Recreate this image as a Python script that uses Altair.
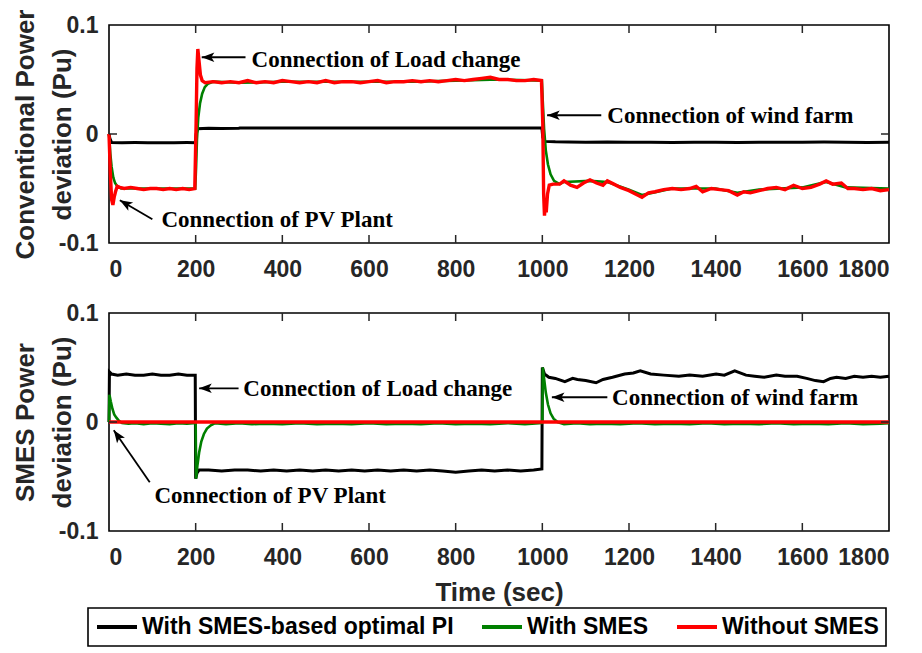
import altair as alt
import pandas as pd

# ---------------- data ----------------
SERIES = ["With SMES-based optimal PI", "With SMES", "Without SMES"]
COLORS = ["#000000", "#008000", "#ff0000"]
X_TICKS = [0, 200, 400, 600, 800, 1000, 1200, 1400, 1600, 1800]
X_INNER_TICKS = [200, 400, 600, 800, 1000, 1200, 1400, 1600]
Y_TICKS = [-0.1, 0, 0.1]
Y_INNER_TICKS = [0]
TOP_TITLE = ["Conventional Power", "deviation (Pu)"]
BOT_TITLE = ["SMES Power", "deviation (Pu)"]
X_TITLE = "Time (sec)"
ANN_LABELS = ["Connection of Load change", "Connection of wind farm", "Connection of PV Plant"]

# top panel: conventional power deviation (time, value)
top_black = [(0, 0.0), (2, -0.004), (6, -0.0078), (30, -0.008), (60, -0.0079), (90, -0.008),
             (120, -0.0081), (150, -0.008), (180, -0.0079), (199, -0.008), (201, 0.0), (205, 0.0048),
             (230, 0.0052), (260, 0.0051), (300, 0.0053), (302, 0.0056), (350, 0.0055), (400, 0.0055),
             (450, 0.0056), (500, 0.0055), (550, 0.0055), (600, 0.0056), (650, 0.0055), (700, 0.0055),
             (750, 0.0056), (800, 0.0055), (850, 0.0055), (900, 0.0056), (950, 0.0055), (999, 0.0055),
             (1001, -0.003), (1006, -0.0068), (1030, -0.0072), (1060, -0.0074), (1100, -0.0075),
             (1150, -0.0073), (1200, -0.0076), (1250, -0.0075), (1300, -0.0077), (1350, -0.0075),
             (1400, -0.0076), (1450, -0.0078), (1500, -0.0076), (1550, -0.0075), (1600, -0.0076),
             (1650, -0.0074), (1700, -0.0076), (1750, -0.0077), (1800, -0.0076)]

top_green = [(0, 0.0), (3, -0.018), (6, -0.030), (10, -0.040), (14, -0.045), (19, -0.048), (28, -0.050),
             (60, -0.050), (100, -0.050), (140, -0.050), (180, -0.050), (199, -0.050), (201, -0.030),
             (203, -0.005), (206, 0.015), (210, 0.028), (215, 0.037), (221, 0.043), (228, 0.046),
             (240, 0.048), (300, 0.047), (400, 0.048), (500, 0.048), (600, 0.048), (700, 0.048),
             (800, 0.049), (900, 0.050), (999, 0.049), (1001, 0.030), (1004, 0.005), (1008, -0.015),
             (1013, -0.028), (1019, -0.037), (1027, -0.043), (1040, -0.046), (1050, -0.044),
             (1110, -0.043), (1150, -0.044), (1200, -0.051), (1230, -0.056), (1300, -0.050),
             (1400, -0.050), (1450, -0.054), (1500, -0.051), (1600, -0.049), (1655, -0.044),
             (1700, -0.049), (1800, -0.050)]

top_red = [(0, 0.0), (3, -0.035), (6, -0.060), (9, -0.065), (12, -0.058), (15, -0.053), (19, -0.048),
           (25, -0.049), (35, -0.050), (50, -0.049), (65, -0.050), (80, -0.051), (95, -0.050),
           (110, -0.050), (125, -0.051), (140, -0.050), (155, -0.051), (170, -0.050), (185, -0.051),
           (198, -0.050), (201, 0.010), (203, 0.060), (205, 0.078), (208, 0.066), (211, 0.054),
           (215, 0.049), (222, 0.047), (240, 0.048), (260, 0.047), (280, 0.048), (300, 0.047),
           (320, 0.049), (340, 0.047), (360, 0.048), (380, 0.047), (400, 0.049), (420, 0.048),
           (440, 0.047), (460, 0.048), (480, 0.047), (500, 0.049), (520, 0.047), (540, 0.048),
           (560, 0.048), (580, 0.047), (600, 0.048), (620, 0.049), (640, 0.047), (660, 0.048),
           (680, 0.048), (700, 0.049), (720, 0.048), (740, 0.049), (760, 0.048), (780, 0.049),
           (800, 0.050), (820, 0.049), (840, 0.050), (860, 0.051), (880, 0.052), (900, 0.050),
           (920, 0.050), (940, 0.049), (960, 0.049), (980, 0.050), (998, 0.049), (1001, 0.010),
           (1003, -0.055), (1005, -0.075), (1007, -0.062), (1009, -0.072), (1012, -0.055),
           (1016, -0.047), (1025, -0.046), (1040, -0.046), (1050, -0.043), (1065, -0.047),
           (1080, -0.049), (1095, -0.045), (1110, -0.042), (1125, -0.045), (1140, -0.047),
           (1150, -0.043), (1165, -0.046), (1180, -0.049), (1200, -0.052), (1215, -0.055),
           (1230, -0.058), (1245, -0.054), (1260, -0.053), (1280, -0.051), (1300, -0.050),
           (1320, -0.051), (1340, -0.050), (1355, -0.048), (1370, -0.053), (1390, -0.050),
           (1410, -0.051), (1430, -0.052), (1450, -0.056), (1465, -0.053), (1480, -0.054),
           (1500, -0.052), (1520, -0.050), (1540, -0.049), (1560, -0.051), (1580, -0.047),
           (1600, -0.050), (1620, -0.049), (1640, -0.046), (1655, -0.043), (1670, -0.046),
           (1690, -0.045), (1705, -0.050), (1720, -0.050), (1740, -0.051), (1760, -0.050),
           (1780, -0.052), (1800, -0.051)]

# bottom panel: SMES power deviation (time, value)
bot_black = [(0, 0.0), (1, 0.046), (6, 0.044), (20, 0.043), (40, 0.044), (60, 0.043), (80, 0.043),
             (100, 0.044), (120, 0.043), (140, 0.043), (160, 0.044), (180, 0.043), (199, 0.043),
             (200, -0.052), (203, -0.047), (208, -0.044), (230, -0.044), (260, -0.045), (290, -0.044),
             (320, -0.044), (350, -0.045), (380, -0.044), (410, -0.045), (440, -0.044), (470, -0.045),
             (500, -0.044), (530, -0.045), (560, -0.044), (590, -0.045), (620, -0.044), (650, -0.045),
             (680, -0.044), (710, -0.045), (740, -0.044), (770, -0.045), (800, -0.046), (830, -0.045),
             (860, -0.044), (890, -0.045), (920, -0.044), (950, -0.045), (980, -0.044), (999, -0.043),
             (1000, 0.050), (1005, 0.044), (1015, 0.041), (1030, 0.040), (1052, 0.037), (1070, 0.040),
             (1081, 0.039), (1100, 0.038), (1124, 0.036), (1140, 0.039), (1162, 0.041), (1190, 0.044),
             (1210, 0.045), (1226, 0.047), (1250, 0.044), (1280, 0.043), (1315, 0.042), (1340, 0.043),
             (1370, 0.042), (1401, 0.044), (1420, 0.043), (1444, 0.047), (1470, 0.043), (1490, 0.042),
             (1512, 0.041), (1540, 0.043), (1560, 0.042), (1588, 0.042), (1610, 0.040), (1630, 0.038),
             (1649, 0.037), (1665, 0.040), (1679, 0.041), (1700, 0.040), (1720, 0.042), (1740, 0.041),
             (1760, 0.042), (1780, 0.041), (1800, 0.042)]

bot_green = [(0, 0.0), (1, 0.025), (4, 0.019), (8, 0.012), (12, 0.007), (17, 0.004), (23, 0.001),
             (30, -0.001), (45, -0.0015), (60, -0.001), (80, -0.002), (100, -0.001), (120, -0.0015),
             (140, -0.002), (160, -0.001), (180, -0.0015), (199, -0.001), (200, 0.0), (201, -0.052),
             (204, -0.040), (208, -0.028), (213, -0.018), (219, -0.011), (226, -0.006), (235, -0.003),
             (245, -0.001), (270, -0.002), (300, -0.001), (330, -0.002), (360, -0.0015), (400, -0.002),
             (440, -0.001), (480, -0.002), (520, -0.0015), (560, -0.002), (600, -0.001), (640, -0.002),
             (680, -0.0015), (720, -0.002), (760, -0.001), (800, -0.002), (840, -0.0015), (880, -0.002),
             (920, -0.001), (960, -0.002), (999, -0.001), (1000, 0.0), (1001, 0.050), (1004, 0.040),
             (1008, 0.027), (1013, 0.016), (1019, 0.008), (1026, 0.003), (1035, 0.0), (1050, -0.002),
             (1080, -0.001), (1110, -0.002), (1140, -0.0015), (1180, -0.002), (1220, -0.001),
             (1260, -0.002), (1300, -0.0015), (1340, -0.002), (1380, -0.001), (1420, -0.002),
             (1460, -0.0015), (1500, -0.002), (1540, -0.001), (1580, -0.002), (1620, -0.0015),
             (1660, -0.002), (1700, -0.001), (1740, -0.002), (1780, -0.0015), (1800, -0.001)]

bot_red = [(0, 0.0), (1800, 0.0)]

# annotations (data coordinates)
top_text_t = [329, 1150, 121]
top_text_v = [0.0676, 0.0163, -0.0793]
top_tail_t = [315, 1136, 100]
top_tail_v = [0.0704, 0.0172, -0.0783]
top_head_t = [214, 1011, 25]
top_head_v = [0.0704, 0.0172, -0.0608]
top_head_angle = [0, 0, 30]

bot_text_t = [310, 1161, 105]
bot_text_v = [0.0300, 0.0217, -0.0680]
bot_tail_t = [299, 1150, 94]
bot_tail_v = [0.0309, 0.0227, -0.0553]
bot_head_t = [208, 1022, 11]
bot_head_v = [0.0309, 0.0227, -0.0076]
bot_head_angle = [0, 0, 55]

# ---------------- chart ----------------
W, H = 780, 218
TICK_LEN = 8
FRAME = "#262626"
ARROW = "M0,0 L2.1,-0.8 L1.6,0 L2.1,0.8 Z"
LEGEND_LINE = "M-1,0 L3,0"

color_scale = alt.Scale(domain=SERIES, range=COLORS)
x_scale = alt.Scale(domain=[0, 1800], nice=False, zero=False)
y_scale = alt.Scale(domain=[-0.1, 0.1], nice=False, zero=False)
y_label_expr = "datum.value == 0 ? '0' : (datum.value < 0 ? '-' : '') + format(abs(datum.value), '.1f')"

legend = alt.Legend(
    title=None, orient="none", legendX=-21, legendY=583, direction="horizontal",
    symbolType=LEGEND_LINE, symbolSize=400, symbolStrokeWidth=4,
    labelFont="Liberation Sans", labelFontSize=23, labelFontWeight="bold", labelColor="#000000",
    labelOffset=23, labelLimit=500, columnPadding=20, padding=7, strokeColor="#000000",
)


def series_df(pairs, name):
    df = pd.DataFrame(pairs, columns=["t", "v"])
    df["series"] = name
    return df


def panel(black, green, red, y_title, x_title, ann, with_legend):
    if x_title is None:
        x_axis = alt.Axis(values=X_TICKS, format="d", labelPadding=15, title=None)
    else:
        x_axis = alt.Axis(values=X_TICKS, format="d", labelPadding=15, title=x_title, titlePadding=10)
    y_axis = alt.Axis(values=Y_TICKS, labelExpr=y_label_expr, labelPadding=11, title=y_title,
                      titleX=-71, titleY=H / 2, titleLineHeight=37)

    def X(field):
        return alt.X(field, scale=x_scale, axis=x_axis)

    def Y(field):
        return alt.Y(field, scale=y_scale, axis=y_axis)

    layers = []
    for i, (pairs, width) in enumerate([(black, 3), (green, 2.6), (red, 3.4)]):
        if i == 0 and with_legend:
            enc_c = alt.Color("series:N", scale=color_scale, legend=legend)
        else:
            enc_c = alt.Color("series:N", scale=color_scale)
        layers.append(
            alt.Chart(series_df(pairs, SERIES[i])).mark_line(strokeWidth=width)
            .encode(x=X("t:Q"), y=Y("v:Q"), color=enc_c)
        )

    text_t, text_v, tail_t, tail_v, head_t, head_v, angle = ann
    ann_df = pd.DataFrame({"label": ANN_LABELS, "tt": text_t, "tv": text_v,
                           "t0": tail_t, "v0": tail_v, "t1": head_t, "v1": head_v, "ang": angle})
    layers.append(alt.Chart(ann_df).mark_rule(color="#000000", strokeWidth=1.8).encode(
        x=X("t0:Q"), x2="t1:Q", y=Y("v0:Q"), y2="v1:Q"))
    layers.append(alt.Chart(ann_df).mark_point(shape=ARROW, filled=True, size=144, color="#000000",
                                              opacity=1).encode(
        x=X("t1:Q"), y=Y("v1:Q"), angle=alt.Angle("ang:Q", scale=None)))
    layers.append(alt.Chart(ann_df).mark_text(align="left", baseline="middle", font="Liberation Serif",
                                             fontSize=23, fontWeight="bold", color="#000000").encode(
        x=X("tt:Q"), y=Y("tv:Q"), text="label:N"))

    # inward ticks (MATLAB style box axes)
    xt = pd.DataFrame({"t": X_INNER_TICKS})
    yt = pd.DataFrame({"v": Y_INNER_TICKS})
    layers.append(alt.Chart(xt).mark_rule(color=FRAME, strokeWidth=1.5).encode(
        x=X("t:Q"), y=alt.value(0), y2=alt.value(TICK_LEN)))
    layers.append(alt.Chart(xt).mark_rule(color=FRAME, strokeWidth=1.5).encode(
        x=X("t:Q"), y=alt.value(H - TICK_LEN), y2=alt.value(H)))
    layers.append(alt.Chart(yt).mark_rule(color=FRAME, strokeWidth=1.5).encode(
        y=Y("v:Q"), x=alt.value(0), x2=alt.value(TICK_LEN)))
    layers.append(alt.Chart(yt).mark_rule(color=FRAME, strokeWidth=1.5).encode(
        y=Y("v:Q"), x=alt.value(W - TICK_LEN), x2=alt.value(W)))

    return alt.layer(*layers).properties(width=W, height=H)


top = panel(top_black, top_green, top_red, TOP_TITLE, None,
            (top_text_t, top_text_v, top_tail_t, top_tail_v, top_head_t, top_head_v, top_head_angle),
            True)
bottom = panel(bot_black, bot_green, bot_red, BOT_TITLE, X_TITLE,
               (bot_text_t, bot_text_v, bot_tail_t, bot_tail_v, bot_head_t, bot_head_v, bot_head_angle),
               False)

chart = (
    alt.vconcat(top, bottom, spacing=19)
    .properties(padding={"left": 3, "top": 0, "right": 0, "bottom": 0}, background="#ffffff")
    .configure_view(stroke="#000000", strokeWidth=1.6)
    .configure_axis(
        labelFont="Liberation Sans", labelFontSize=23, labelFontWeight="bold", labelColor="#262626",
        titleFont="Liberation Sans", titleFontSize=26, titleFontWeight="bold", titleColor="#262626",
        grid=False, ticks=False, tickSize=0, domain=False,
    )
    .configure_legend(strokeWidth=1.6)
)

chart.save("out.html", embed_options={"renderer": "svg", "actions": False})
